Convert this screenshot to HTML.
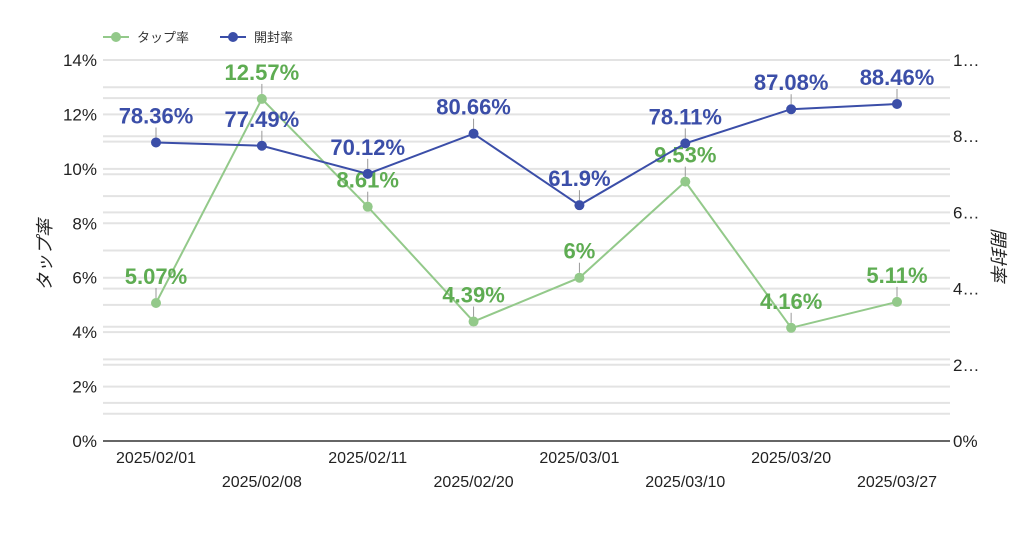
<!DOCTYPE html>
<html><head><meta charset="utf-8"><style>
body{margin:0;background:#fff;}
svg{display:block;font-family:"Liberation Sans","Noto Sans CJK JP",sans-serif;}
</style></head><body>
<svg id="chart" width="1024" height="535">
<g id="grid"></g>
<g id="axes"></g>
<g id="series"></g>
<g>
 <g>
  <line x1="103" y1="37" x2="129" y2="37" stroke="#93c98a" stroke-width="2"/>
  <circle cx="116" cy="37" r="5" fill="#93c98a"/>
  <text x="137" y="42" font-size="13" fill="#333">タップ率</text>
 </g>
 <g>
  <line x1="220" y1="37" x2="246" y2="37" stroke="#3b4ea8" stroke-width="2"/>
  <circle cx="233" cy="37" r="5" fill="#3b4ea8"/>
  <text x="254" y="42" font-size="13" fill="#333">開封率</text>
 </g>
</g>
<text transform="translate(51,255) rotate(-90)" text-anchor="middle" font-size="18" font-style="italic" fill="#222">タップ率</text>
<text transform="translate(992,255) rotate(90)" text-anchor="middle" font-size="18" font-style="italic" fill="#222">開封率</text>
</svg>
<script>
const categories=["2025/02/01","2025/02/08","2025/02/11","2025/02/20","2025/03/01","2025/03/10","2025/03/20","2025/03/27"];
const tapRate=[5.07,12.57,8.61,4.39,6,9.53,4.16,5.11];
const openRate=[78.36,77.49,70.12,80.66,61.9,78.11,87.08,88.46];
const leftTicks=[0,2,4,6,8,10,12,14];
const rightTicks=[0,20,40,60,80,100];
const rightTickLabels=["0%","2…","4…","6…","8…","1…"];

const NS="http://www.w3.org/2000/svg";
const X0=103,X1=950,Y0=441,Y1=60;
const xS=i=>156+i*(897-156)/(categories.length-1);
const yL=v=>Y0-(v/14)*(Y0-Y1);
const yR=v=>Y0-(v/100)*(Y0-Y1);
function mk(tag,attrs,parent,txt){const e=document.createElementNS(NS,tag);for(const k in attrs)e.setAttribute(k,attrs[k]);if(txt!==undefined)e.textContent=txt;parent.appendChild(e);return e;}
const grid=document.getElementById('grid'),axes=document.getElementById('axes'),series=document.getElementById('series');
for(let v=1;v<=14;v++){const l=mk('line',{x1:X0,x2:X1,y1:yL(v),y2:yL(v),stroke:'#e3e3e3','stroke-width':2},grid);

}
for(let v=10;v<=100;v+=10){const l=mk('line',{x1:X0,x2:X1,y1:yR(v),y2:yR(v),stroke:'#e3e3e3','stroke-width':2},grid);

}
const base=mk('line',{x1:X0,x2:X1,y1:Y0,y2:Y0,stroke:'#333','stroke-width':1.5},axes);


leftTicks.forEach(v=>{const t=mk('text',{x:97,y:yL(v)+6,'text-anchor':'end','font-size':17,fill:'#222'},axes,v+'%');

});
rightTicks.forEach((v,i)=>{const t=mk('text',{x:953,y:yR(v)+6,'font-size':17,fill:'#222'},axes,rightTickLabels[i]);

});
categories.forEach((c,i)=>{const t=mk('text',{x:xS(i),y:i%2?487:463,'text-anchor':'middle','font-size':16,fill:'#222'},axes,c);

});
function drawSeries(vals,yf,lineCol,labelCol,name){
 const g=mk('g',{},series);
 
 
 const p=mk('polyline',{points:vals.map((v,i)=>xS(i)+','+yf(v)).join(' '),fill:'none',stroke:lineCol,'stroke-width':2},g);
 
 
 vals.forEach((v,i)=>{
  const x=xS(i),y=yf(v);
  const tk=mk('line',{x1:x,x2:x,y1:y-15,y2:y-5,stroke:'#999','stroke-width':1},g);
  
  
  const c=mk('circle',{cx:x,cy:y,r:5,fill:lineCol},g);
  
  
  const t=mk('text',{x:x,y:y-19,'text-anchor':'middle','font-size':22,'font-weight':'bold',fill:labelCol},g,v+'%');
  
  
 });
}
drawSeries(tapRate,yL,'#93c98a','#5eac52','tap-rate');
drawSeries(openRate,yR,'#3b4ea8','#3b4ea8','open-rate');
</script>
</body></html>
